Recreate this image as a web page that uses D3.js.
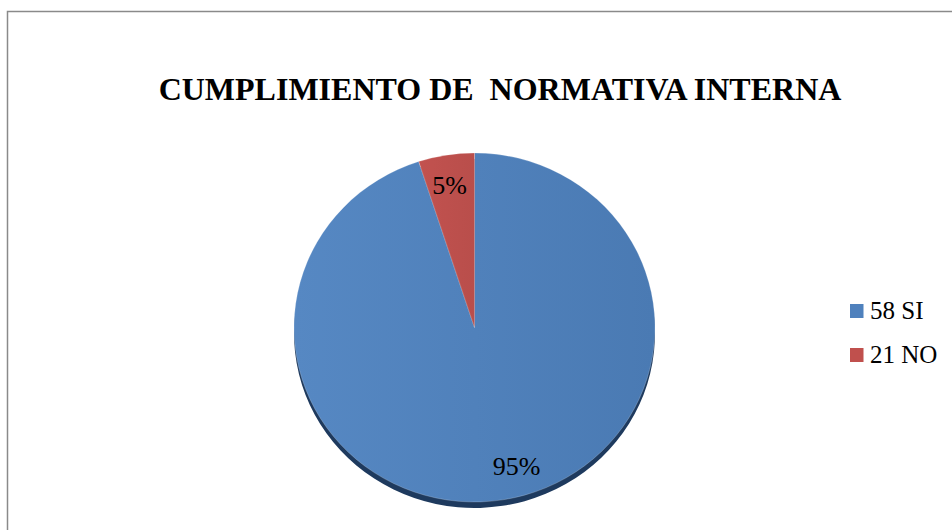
<!DOCTYPE html>
<html>
<head>
<meta charset="utf-8">
<script src="https://cdn.jsdelivr.net/npm/d3@7"></script>
<style>
  html, body { margin: 0; padding: 0; background: #fff; }
</style>
</head>
<body>
<div id="chart"></div>
<script>
// --- DATA ---
const categories = ["58 SI", "21 NO"];
const values = [95, 5];
const labels = ["95%", "5%"];
const colors = ["#4F81BD", "#C0504D"];
const title = "CUMPLIMIENTO DE  NORMATIVA INTERNA";

const W = 952, H = 530;
const svg = d3.select("#chart").append("svg")
    .attr("width", W).attr("height", H)
    .attr("font-family", "Liberation Serif, Times New Roman, serif");

// chart frame
svg.append("rect")
    .attr("x", 7.5).attr("y", 11.5).attr("width", 1000).attr("height", 600)
    .attr("fill", "#fff").attr("stroke", "#8a8a8a").attr("stroke-width", 1.5);

svg.append("text")
    .attr("x", 500).attr("y", 100)
    .attr("text-anchor", "middle")
    .attr("font-size", 32).attr("font-weight", "bold")
    .attr("fill", "#000")
    .style("white-space", "pre")
    .text(title);

// --- PIE ---
const cx = 474.5, cy = 327.5, R = 180.5, ky = 174.5 / 180.5, depth = 6;

const defs = svg.append("defs");
const gFace = defs.append("linearGradient").attr("id", "faceBlue").attr("x1", "0").attr("x2", "1").attr("y1", "0").attr("y2", "0");
gFace.append("stop").attr("offset", "0").attr("stop-color", "#5688C3");
gFace.append("stop").attr("offset", "1").attr("stop-color", "#4A7AB3");
const gRed = defs.append("linearGradient").attr("id", "faceRed").attr("x1", "0").attr("x2", "1");
gRed.append("stop").attr("offset", "0").attr("stop-color", "#C2524F");
gRed.append("stop").attr("offset", "1").attr("stop-color", "#B94E4B");
const fills = ["url(#faceBlue)", "url(#faceRed)"];

const pie = d3.pie().sort(null).value(d => d);
const arcs = pie(values);
const arc = d3.arc().innerRadius(0).outerRadius(R);

// side (3D rim) drawn as the same pie shifted down
const rim = svg.append("g").attr("transform", `translate(${cx},${cy + depth}) scale(1,${ky})`);
rim.selectAll("path").data(arcs).join("path")
    .attr("d", arc)
    .attr("fill", (d, i) => i === 0 ? "#1E3A5E" : "#7A2E2C");

const face = svg.append("g").attr("transform", `translate(${cx},${cy}) scale(1,${ky})`);
face.selectAll("path").data(arcs).join("path")
    .attr("d", arc)
    .attr("fill", (d, i) => fills[i])
    .attr("stroke", "rgba(255,255,255,0.35)").attr("stroke-width", 0.6);

// data labels
const labelPos = [[516.5 - cx, 475 - cy], [449.5 - cx, 194 - cy]];
svg.append("g").attr("transform", `translate(${cx},${cy})`)
  .selectAll("text").data(arcs).join("text")
    .attr("x", (d, i) => labelPos[i][0])
    .attr("y", (d, i) => labelPos[i][1])
    .attr("text-anchor", "middle")
    .attr("font-size", 26)
    .attr("fill", "#000")
    .text((d, i) => labels[i]);

// --- LEGEND ---
const legend = svg.append("g").attr("transform", "translate(850,304)");
const item = legend.selectAll("g").data(categories).join("g")
    .attr("transform", (d, i) => `translate(0,${i * 44})`);
item.append("rect").attr("width", 13.5).attr("height", 14)
    .attr("fill", (d, i) => colors[i]);
item.append("text").attr("x", 20).attr("y", 15.3)
    .attr("font-size", 25).attr("fill", "#000")
    .text(d => d);
</script>
</body>
</html>
